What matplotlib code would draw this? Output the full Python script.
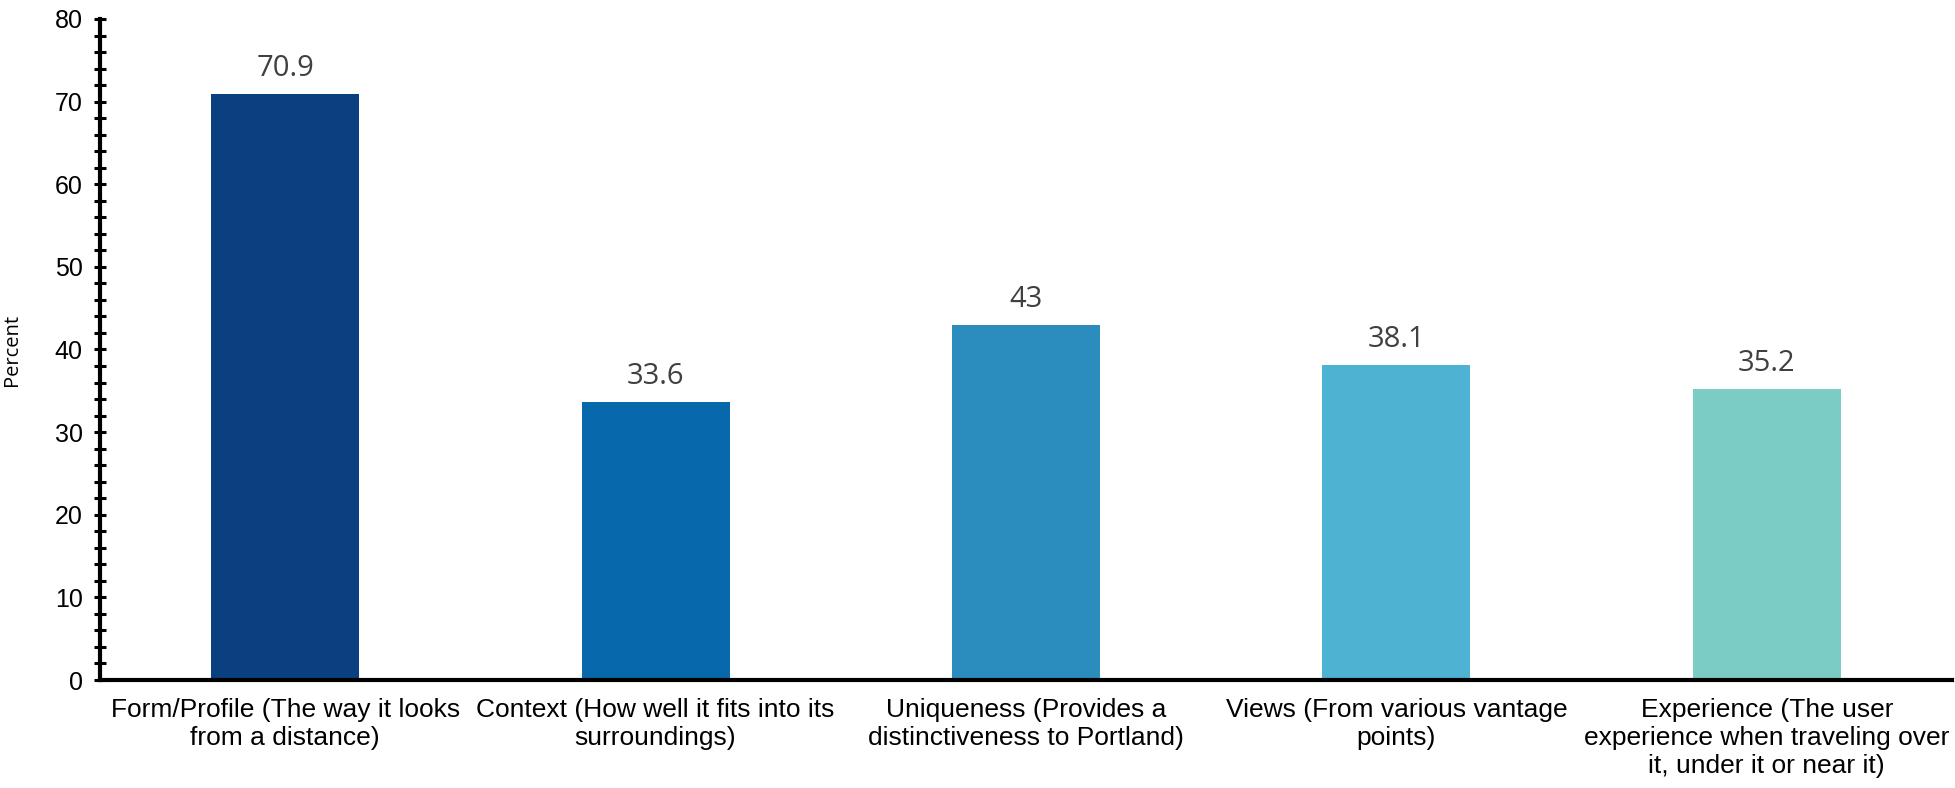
import matplotlib
matplotlib.use("Agg")
import matplotlib.pyplot as plt
from matplotlib.ticker import MultipleLocator

categories = [
    "Form/Profile (The way it looks\nfrom a distance)",
    "Context (How well it fits into its\nsurroundings)",
    "Uniqueness (Provides a\ndistinctiveness to Portland)",
    "Views (From various vantage\npoints)",
    "Experience (The user\nexperience when traveling over\nit, under it or near it)",
]
values = [70.9, 33.6, 43, 38.1, 35.2]
value_labels = ["70.9", "33.6", "43", "38.1", "35.2"]
colors = ["#0B4080", "#0868AC", "#2B8CBE", "#4EB3D3", "#7BCCC4"]

W, H = 1956, 788
fig = plt.figure(figsize=(W / 100, H / 100), dpi=100)
left, right, top, bottom = 100, 1952, 19, 680
ax = fig.add_axes([left / W, (H - bottom) / H, (right - left) / W, (bottom - top) / H])

x = list(range(len(categories)))
bars = ax.bar(x, values, width=0.40, color=colors, zorder=2)

ax.set_xlim(-0.5, len(categories) - 0.5)
ax.set_ylim(0, 80)
ax.yaxis.set_major_locator(MultipleLocator(10))
ax.yaxis.set_minor_locator(MultipleLocator(2))

for s in ["top", "right"]:
    ax.spines[s].set_visible(False)
for s in ["left", "bottom"]:
    ax.spines[s].set_linewidth(3)
    ax.spines[s].set_color("black")

ax.tick_params(axis="y", which="both", direction="inout", length=9, width=2.2,
               labelsize=18, pad=8, colors="black")
ax.tick_params(axis="x", length=0, labelsize=19, pad=13)
ax.set_xticks(x)
ax.set_xticklabels(categories, fontfamily="Liberation Sans", linespacing=1.2)
for lbl in ax.get_yticklabels():
    lbl.set_fontfamily("Liberation Sans")

ax.set_ylabel("Percent", fontsize=14.5, fontfamily="Open Sans")
ax.yaxis.set_label_coords(-0.042, 0.5)

for xi, v, t in zip(x, values, value_labels):
    ax.annotate(t, (xi, v), xytext=(0, 8), textcoords="offset points",
                ha="center", va="bottom", fontsize=21, color="#404040",
                fontfamily="Open Sans")

fig.savefig("out.png", dpi=100)
